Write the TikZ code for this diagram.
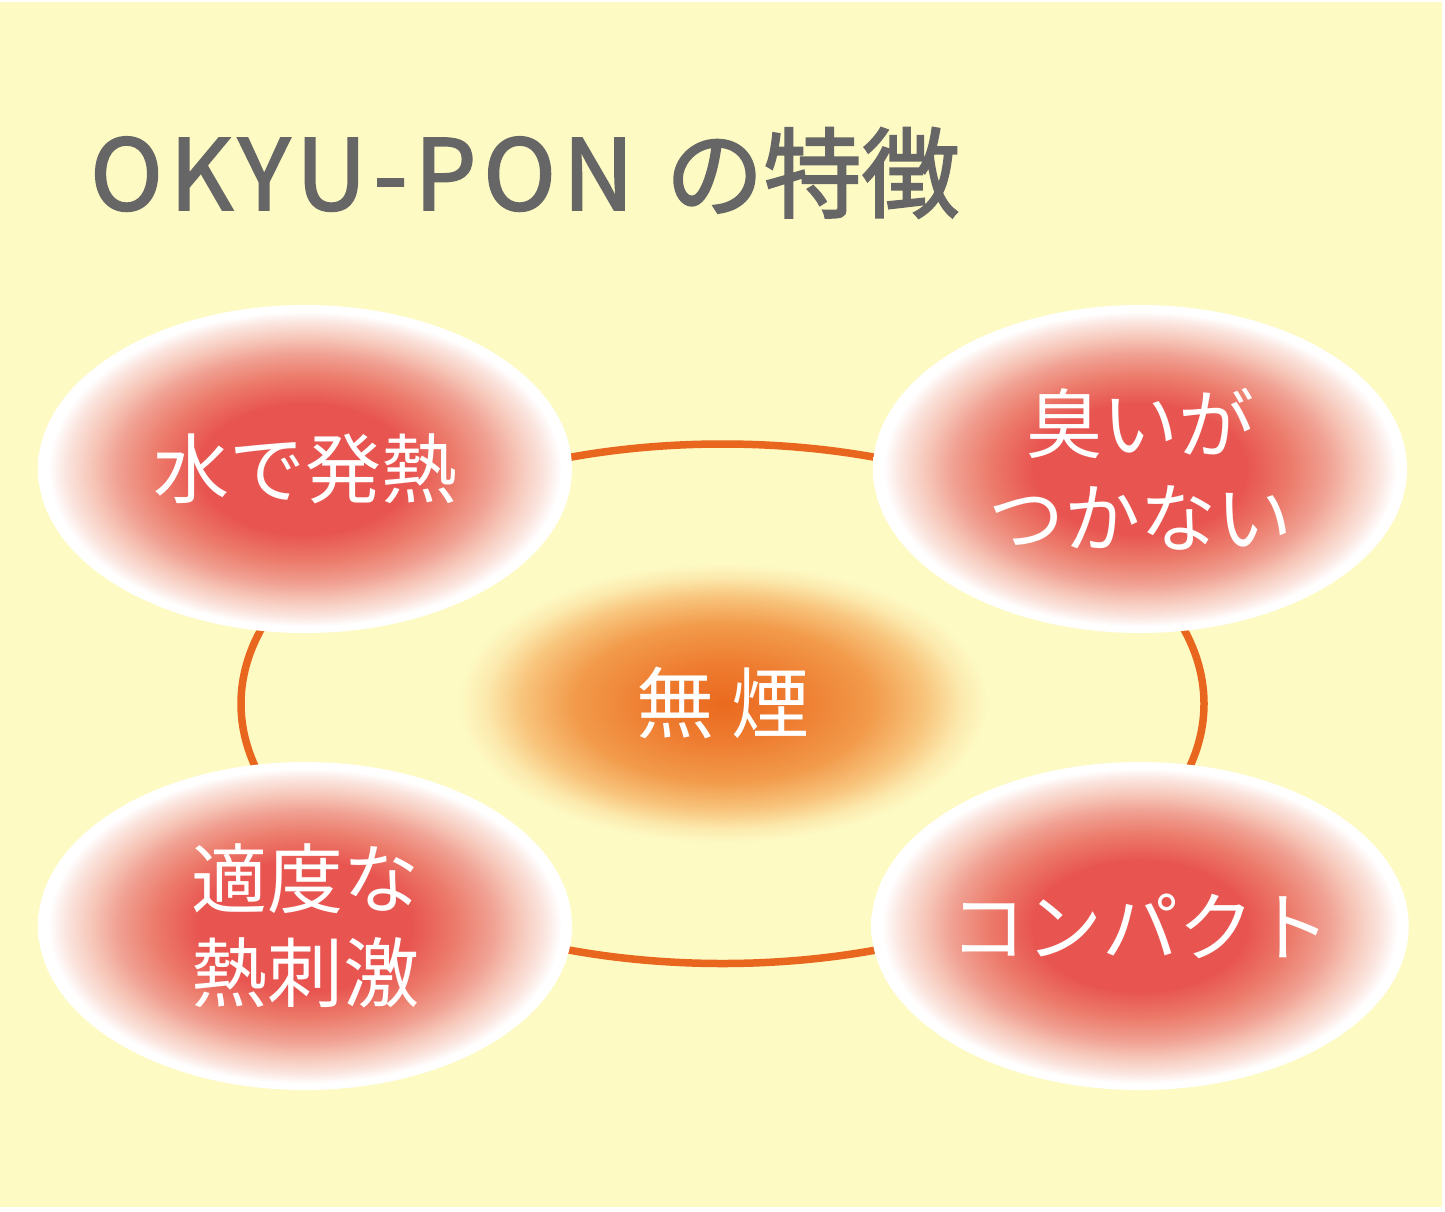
\documentclass[tikz,border=0pt]{standalone}
\usepackage{fontspec}
\setmainfont{Noto Sans CJK JP}
\usetikzlibrary{shapes.geometric}
\definecolor{bgyellow}{HTML}{FDFAC4}
\definecolor{titlegray}{HTML}{666666}
\definecolor{ringorange}{HTML}{E8661E}
\definecolor{redc}{HTML}{E85550}
\definecolor{redb}{HTML}{EC7A6A}
\definecolor{redp}{HTML}{F0A092}
\definecolor{redl}{HTML}{F6C6B8}
\definecolor{redw}{HTML}{FBE6E0}
\definecolor{orc}{HTML}{EA6A1F}
\definecolor{orb}{HTML}{EE7C30}
\definecolor{orm}{HTML}{F29A4A}
\definecolor{orl}{HTML}{F8C47C}
\definecolor{orp}{HTML}{FCEAAE}
\pgfdeclareradialshading{redball}{\pgfpoint{0bp}{0bp}}{%
  color(0bp)=(redc); color(10bp)=(redc); color(14bp)=(redb);
  color(17.5bp)=(redp); color(20bp)=(redl); color(22.5bp)=(redw);
  color(24bp)=(white); color(25bp)=(white); color(50bp)=(white)}
\pgfdeclareradialshading{orangeblob}{\pgfpoint{0bp}{0bp}}{%
  color(0bp)=(orc); color(7bp)=(orb); color(14bp)=(orm);
  color(19bp)=(orl); color(22.5bp)=(orp);
  color(25bp)=(bgyellow); color(50bp)=(bgyellow)}
\tikzset{
  feature/.style={ellipse, minimum width=534pt, minimum height=328pt,
    inner sep=0pt, shading=redball, text=white, align=center,
    font=\fontsize{76pt}{94pt}\selectfont},
  blob/.style={ellipse, minimum width=530pt, minimum height=280pt,
    inner sep=0pt, shading=orangeblob, text=white,
    font=\fontsize{78pt}{94pt}\selectfont},
  ringline/.style={draw=ringorange, line width=7.5pt},
  titletext/.style={anchor=base west, inner sep=0pt, text=titlegray,
    font=\fontsize{98pt}{110pt}\selectfont\addfontfeature{FakeBold=2}}
}
\begin{document}
\begin{tikzpicture}[x=1pt,y=-1pt]
\useasboundingbox (0,0) rectangle (1445,1211);
\fill[white] (0,0) rectangle (1445,1211);
\fill[bgyellow] (0,2) rectangle (1442,1207);
\node[titletext] (title) at (90,210) {{\addfontfeature{LetterSpace=7}OKYU-PON}\hspace{10pt} の特徴};
\coordinate (ringc) at (722.5,703.75);
\draw[ringline] (ringc) ellipse [x radius=481.5pt, y radius=259.75pt];
\node[blob] (smoke) at (723,703) {無 煙};
\node[feature] (water) at (305,469) {水で発熱};
\node[feature] (odor) at (1140,469) {臭いが\\つかない};
\node[feature] (heat) at (305,926) {適度な\\熱刺激};
\node[feature] (compact) at (1140,926) {コンパクト};
\end{tikzpicture}
\end{document}
